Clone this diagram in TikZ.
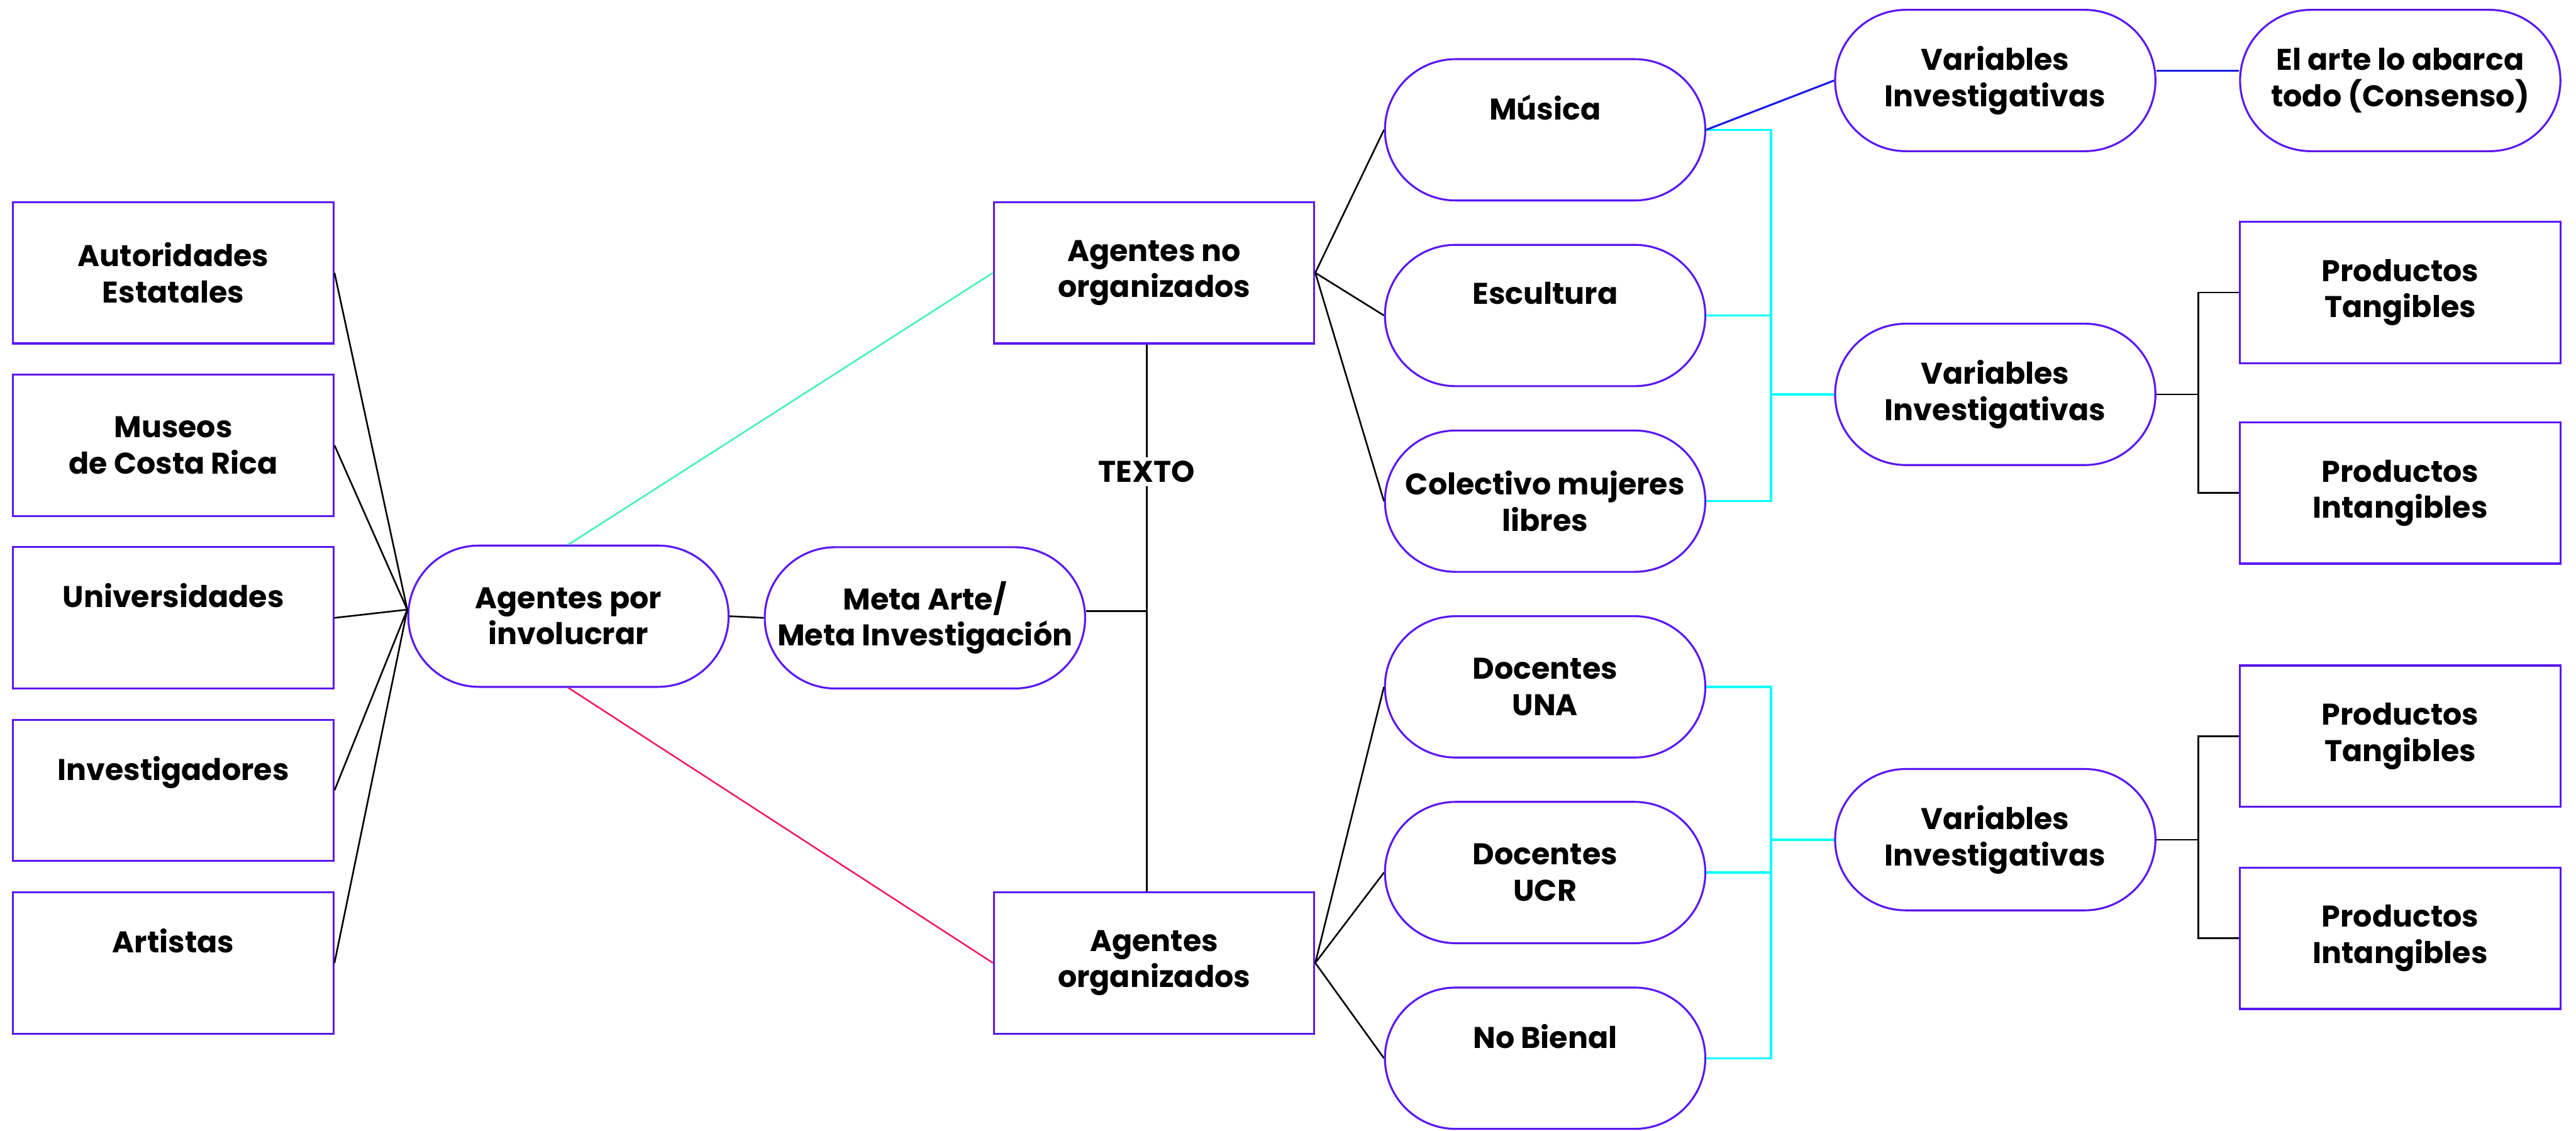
\documentclass[tikz,border=0pt]{standalone}
\usepackage{fontspec}
\setmainfont{Poppins}
\usetikzlibrary{calc}
\definecolor{frame}{HTML}{5B17F0}
\definecolor{mint}{HTML}{44F2B2}
\definecolor{rose}{HTML}{F01E64}
\definecolor{aqua}{HTML}{00FFFF}
\definecolor{deepblue}{HTML}{1A1AE6}
% a label that sits on the upper line of a two-line block
\newcommand{\onel}[1]{#1\\[5pt]\mbox{}}
\begin{document}
\begin{tikzpicture}[x=1pt,y=-1pt,
  box/.style={draw=frame, line width=1.2pt, minimum width=195pt, minimum height=86pt,
    inner sep=0pt, align=center, text=black,
    font=\fontsize{18.2}{22}\selectfont\bfseries},
  pill/.style={box, rounded corners=43pt},
  link/.style={line width=1pt, draw=black},
  cyanlink/.style={line width=1.3pt, draw=aqua},
]
\useasboundingbox (0,0) rectangle (1568,688);

% left column
\node[box] (aut) at (105.5,166) {Autoridades\\Estatales};
\node[box] (mus) at (105.5,271) {Museos\\de Costa Rica};
\node[box] (uni) at (105.5,376) {\onel{Universidades}};
\node[box] (inv) at (105.5,481) {\onel{Investigadores}};
\node[box] (art) at (105.5,586) {\onel{Artistas}};

% centre
\node[pill] (apor) at (346,375) {Agentes por\\involucrar};
\node[pill] (meta) at (563,376) {Meta Arte/\\Meta Investigación};
\node[box] (ano) at (702.5,166) {Agentes no\\organizados};
\node[box] (aor) at (702.5,586) {Agentes\\organizados};

% groups of agents
\node[pill] (musica) at (940.5,79) {\onel{Música}};
\node[pill] (escul) at (940.5,192) {\onel{Escultura}};
\node[pill] (colec) at (940.5,305) {Colectivo mujeres\\libres};
\node[pill] (una) at (940.5,418) {Docentes\\UNA};
\node[pill] (ucr) at (940.5,531) {Docentes\\UCR};
\node[pill] (bienal) at (940.5,644) {\onel{No Bienal}};

% research variables
\node[pill] (var1) at (1214.5,49) {Variables\\Investigativas};
\node[pill] (var2) at (1214.5,240) {Variables\\Investigativas};
\node[pill] (var3) at (1214.5,511) {Variables\\Investigativas};

% outcomes
\node[pill] (todo) at (1461,49) {El arte lo abarca\\todo (Consenso)};
\node[box] (pt1) at (1461,178) {Productos\\Tangibles};
\node[box] (pi1) at (1461,300) {Productos\\Intangibles};
\node[box] (pt2) at (1461,448) {Productos\\Tangibles};
\node[box] (pi2) at (1461,571) {Productos\\Intangibles};

% helper columns
\coordinate (spine) at (698,371);
\coordinate (cx) at (1078,0);
\coordinate (bx) at (1338,0);

% left fan
\foreach \n in {aut,mus,uni,inv,art}
  \draw[link] (\n.east) -- ([yshift=4pt]apor.west);

\draw[link] (apor.east) -- (meta.west);
\draw[mint, line width=1pt] (apor.north) -- (ano.west);
\draw[rose, line width=1pt] (apor.south) -- (aor.west);

% central spine with its label
\node[fill=white, inner sep=2pt, font=\fontsize{18.2}{22}\selectfont\bfseries] (txt) at (698,287) {TEXTO};
\draw[link] (ano.south -| spine) -- (txt.north -| spine);
\draw[link] (txt.south -| spine) -- (aor.north -| spine);
\draw[link] ([yshift=4pt]meta.east) -- ([yshift=4pt]meta.east -| spine);

% fans to the groups
\foreach \n in {musica,escul,colec}
  \draw[link] (ano.east) -- (\n.west);
\foreach \n in {una,ucr,bienal}
  \draw[link] (aor.east) -- (\n.west);

% upper bracket
\draw[cyanlink] (musica.east) -- (musica.east -| cx) -- (colec.east -| cx) -- (colec.east);
\draw[cyanlink] (escul.east) -- (escul.east -| cx);
\draw[cyanlink] (var2.west -| cx) -- (var2.west);

% lower bracket
\draw[cyanlink] (una.east) -- (una.east -| cx) -- (bienal.east -| cx) -- (bienal.east);
\draw[cyanlink] (ucr.east) -- (ucr.east -| cx);
\draw[cyanlink] (var3.west -| cx) -- (var3.west);

% consensus branch
\draw[deepblue, line width=1.2pt] (musica.east) -- (var1.west);
\draw[deepblue, line width=1.2pt] ([yshift=6pt]var1.east) -- ([yshift=6pt]todo.west);

% product brackets
\draw[link] (var2.east) -- (var2.east -| bx);
\draw[link] (pt1.west) -- (pt1.west -| bx) -- (pi1.west -| bx) -- (pi1.west);
\draw[link] (var3.east) -- (var3.east -| bx);
\draw[link] (pt2.west) -- (pt2.west -| bx) -- (pi2.west -| bx) -- (pi2.west);
\end{tikzpicture}
\end{document}
